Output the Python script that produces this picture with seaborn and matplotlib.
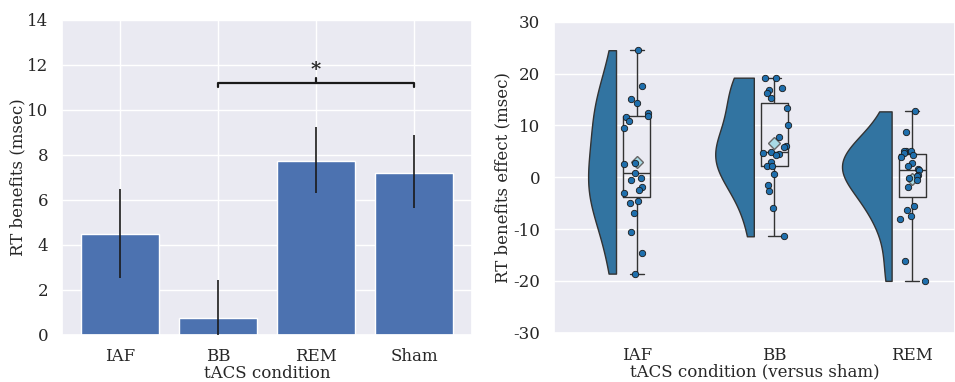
import numpy as np
import pandas as pd
import matplotlib
matplotlib.use("Agg")
import matplotlib.pyplot as plt
import seaborn as sns

# left panel: mean RT benefits per condition, with error bar limits
conditions = ['IAF', 'BB', 'REM', 'Sham']
benefit_means = [4.45, 0.74, 7.70, 7.16]
err_low = [2.53, -0.95, 6.30, 5.61]
err_high = [6.47, 2.42, 9.21, 8.87]

# right panel: per-subject RT benefit effect (versus sham)
effect_conditions = ['IAF', 'BB', 'REM']
iaf_vals = [24.5, 17.6, 15.0, 14.3, 12.35, 11.8, 11.7, 10.9, 9.4, 2.8, 2.6, 0.9,
            -0.2, -0.6, -1.8, -2.4, -3.1, -4.5, -4.9, -6.9, -10.6, -14.7, -18.6]
bb_vals = [19.2, 19.2, 17.3, 16.8, 16.3, 15.2, 13.3, 10.1, 7.7, 6.1, 5.8, 4.95,
           4.6, 4.5, 4.3, 3.0, 2.1, 2.1, 0.7, -1.45, -2.6, -6.0, -11.4]
rem_vals = [12.7, 8.7, 5.15, 5.0, 5.0, 4.6, 4.3, 3.95, 2.7, 2.2, 1.5, 1.3,
            0.5, 0.3, -0.2, -0.6, -1.9, -5.6, -6.3, -7.5, -8.1, -16.2, -20.0]

sns.set_theme(style='darkgrid')
plt.rcParams['font.family'] = ['DejaVu Serif']
plt.rcParams['axes.unicode_minus'] = False
fs = 12

fig = plt.figure(figsize=(9.55, 3.82), dpi=100)
ax1 = fig.add_axes([62 / 955, 47.5 / 382, 410 / 955, 315 / 382])
ax2 = fig.add_axes([554 / 955, 49.3 / 382, 401 / 955, 311 / 382])

# ---- left: bar chart
bars = pd.DataFrame({'cond': conditions, 'mean': benefit_means})
sns.barplot(data=bars, x='cond', y='mean', color='#4c72b0', saturation=1,
            errorbar=None, width=0.8, ax=ax1)
ax1.vlines(range(len(conditions)), err_low, err_high, color='#1a1a1a', lw=1.2, zorder=3)

# significance bracket BB vs Sham
i_a, i_b = conditions.index('BB'), conditions.index('Sham')
y_br, h_end, h_mid = 11.19, 0.2, 0.22
ax1.plot([i_a, i_a, i_b, i_b], [y_br - h_end, y_br, y_br, y_br - h_end], color='k', lw=1.6)
ax1.plot([(i_a + i_b) / 2] * 2, [y_br, y_br + h_mid], color='k', lw=1.6)
ax1.text((i_a + i_b) / 2, y_br + 0.15, '*', ha='center', va='bottom',
         fontsize=14, fontweight='bold')

ax1.set_xlim(-0.59, 3.59)
ax1.set_ylim(0, 14)
ax1.set_yticks(np.arange(0, 15, 2))
ax1.grid(True, axis='x')
ax1.set_xlabel('tACS condition', fontsize=fs, labelpad=0)
ax1.set_ylabel('RT benefits (msec)', fontsize=fs, labelpad=0)
ax1.tick_params(labelsize=fs, pad=4)

# ---- right: raincloud (half violin + box + strip)
long = pd.DataFrame({
    'cond': ['IAF'] * len(iaf_vals) + ['BB'] * len(bb_vals) + ['REM'] * len(rem_vals),
    'effect': iaf_vals + bb_vals + rem_vals,
})
long['pos'] = long['cond'].map({c: i for i, c in enumerate(effect_conditions)})
long['side'] = 'left'

v_width = 0.36
v_edge = -0.15  # flat side of the half violin, relative to the category
long['vpos'] = long['pos'] + v_edge - v_width / 2

sns.violinplot(data=long, x='vpos', y='effect', hue='side', hue_order=['left', 'right'],
               split=True, dodge=False, native_scale=True, inner=None, cut=0,
               bw_adjust=1.2,
               palette={'left': '#3274a1', 'right': '#3274a1'}, saturation=1,
               linewidth=1.0, linecolor='#333333', width=v_width, legend=False, ax=ax2)

sns.boxplot(data=long, x='pos', y='effect', native_scale=True, width=0.2, whis=(0, 100),
            showfliers=False, fill=False, color='#333333', linewidth=1.0,
            showmeans=True,
            meanprops=dict(marker='D', markerfacecolor='#a9dbe6', markeredgecolor='#666666',
                           markersize=6),
            ax=ax2)

np.random.seed(3)
sns.stripplot(data=long, x='pos', y='effect', native_scale=True, jitter=0.1,
              color='#1f6fad', edgecolor='#1a1a1a', linewidth=0.6, size=4.6,
              zorder=3, ax=ax2)

ax2.set_xlim(-0.6, 2.31)
ax2.set_ylim(-30, 30)
ax2.set_yticks(np.arange(-30, 31, 10))
ax2.set_xticks(range(len(effect_conditions)))
ax2.set_xticklabels(effect_conditions)
ax2.grid(False, axis='x')
ax2.set_xlabel('tACS condition (versus sham)', fontsize=fs, labelpad=0)
ax2.set_ylabel('RT benefits effect (msec)', fontsize=fs, labelpad=1)
ax2.tick_params(labelsize=fs, pad=4)

fig.savefig('out.png', dpi=100)
